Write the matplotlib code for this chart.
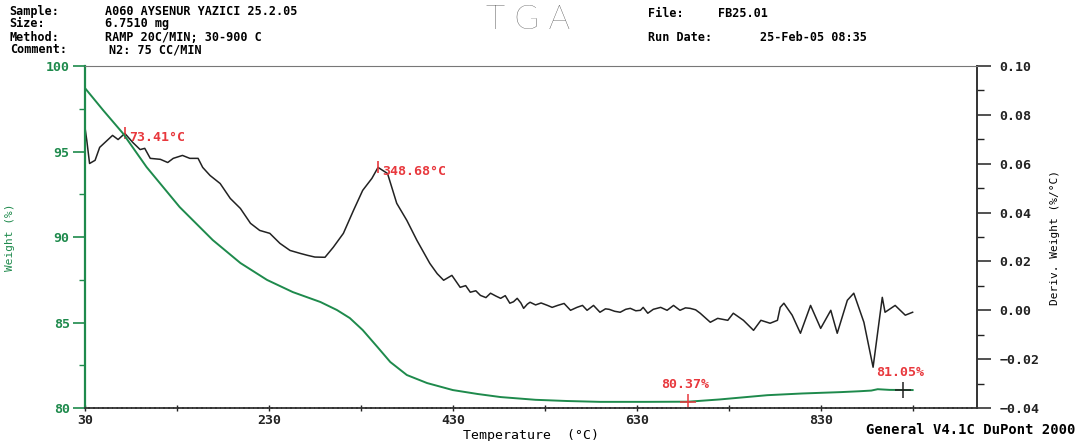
import numpy as np
import matplotlib
matplotlib.use('Agg')
import matplotlib.pyplot as plt
from matplotlib.ticker import MultipleLocator, FixedLocator

# --- data ---
# weight curve (%), temperature in C
weight_T = [30, 50, 71, 97, 133, 169, 199, 228, 256, 286, 304, 318, 332, 348,
            362, 380, 402, 430, 457, 482, 520, 554, 590, 640, 686, 720, 772,
            810, 852, 872, 885, 892, 905, 930]
weight_pct = [98.71, 97.40, 96.08, 94.09, 91.75, 89.82, 88.48, 87.49, 86.78, 86.20,
              85.73, 85.26, 84.56, 83.57, 82.69, 81.93, 81.46, 81.05, 80.82, 80.64,
              80.48, 80.41, 80.36, 80.36, 80.37, 80.50, 80.75, 80.85, 80.93, 80.98,
              81.02, 81.10, 81.06, 81.05]

# derivative curve (%/C)
deriv_T = [30, 32, 35, 41, 46, 54, 60, 66, 73.4, 82, 90, 95, 101, 112, 120, 126,
           136, 144, 153, 158, 166, 177, 188, 199, 210, 220, 231, 242, 253, 264,
           272, 280, 291, 300, 311, 322, 332, 342, 348.7, 359, 369, 380, 391, 405,
           413, 420, 429, 438, 444, 449, 455, 460, 466, 471, 477, 482, 487, 492,
           496, 500, 504, 507, 511, 514, 520, 526, 533, 538, 544, 551, 558, 565,
           571, 576, 583, 590, 596, 600, 606, 612, 618, 623, 629, 634, 637, 642,
           648, 656, 663, 670, 677, 683, 688, 694, 699, 710, 718, 729, 735, 746,
           757, 765, 775, 783, 786, 790, 799, 808, 819, 830, 841, 848, 859, 866,
           877, 887, 897, 900, 911, 922, 930]
deriv_val = [0.0749, 0.0695, 0.0601, 0.0614, 0.0667, 0.0695, 0.0716, 0.0699, 0.0724,
             0.0687, 0.0658, 0.0663, 0.0622, 0.0618, 0.0605, 0.0622, 0.0634, 0.0622,
             0.0622, 0.0585, 0.0552, 0.0519, 0.0458, 0.0417, 0.0356, 0.0327, 0.0315,
             0.0274, 0.0245, 0.0233, 0.0225, 0.0218, 0.0217, 0.0258, 0.0315, 0.0409,
             0.0491, 0.0540, 0.0585, 0.0560, 0.0438, 0.0368, 0.0286, 0.0192, 0.0150,
             0.0123, 0.0143, 0.0094, 0.0101, 0.0074, 0.0080, 0.0061, 0.0052, 0.0070,
             0.0058, 0.0049, 0.0060, 0.0029, 0.0035, 0.0049, 0.0030, 0.0008, 0.0025,
             0.0033, 0.0022, 0.0030, 0.0020, 0.0012, 0.0020, 0.0028, 0.0000, 0.0012,
             0.0020, 0.0000, 0.0020, -0.0008, 0.0006, 0.0004, -0.0004, -0.0008, 0.0004,
             0.0008, -0.0002, 0.0000, 0.0012, -0.0012, 0.0004, 0.0012, 0.0000, 0.0020,
             0.0000, 0.0010, 0.0008, 0.0002, -0.0012, -0.0049, -0.0033, -0.0041,
             -0.0012, -0.0041, -0.0082, -0.0041, -0.0053, -0.0041, 0.0012, 0.0029,
             -0.0020, -0.0094, 0.0020, -0.0074, 0.0000, -0.0094, 0.0041, 0.0070,
             -0.0049, -0.0233, 0.0053, -0.0008, 0.0020, -0.0020, -0.0008]

peak_labels = [(73.41, 0.0724, '73.41°C'), (348.68, 0.0585, '348.68°C')]
weight_marks = [(686, 80.35, '80.37%'), (919, 81.05, '81.05%')]

x_ticks = [30, 230, 430, 630, 830]

# --- style ---
GREEN = '#1e8a4c'
RED = '#e8383d'
MONO = 'DejaVu Sans Mono'
plt.rcParams['font.family'] = MONO
plt.rcParams['font.weight'] = 'bold'

fig = plt.figure(figsize=(10.81, 4.41), dpi=100)
ax = fig.add_axes([0.0786, 0.0748, 0.8252, 0.7755])
ax2 = ax.twinx()
ax.set_zorder(ax2.get_zorder() + 1)
ax.patch.set_visible(False)

ax2.plot(deriv_T, deriv_val, color='#222222', lw=1.1)
ax.plot(weight_T, weight_pct, color=GREEN, lw=1.4)

ax.set_xlim(30, 1000)
ax.set_ylim(80, 100)
ax2.set_ylim(-0.04, 0.10)

# left axis
ax.yaxis.set_major_locator(MultipleLocator(5))
ax.yaxis.set_minor_locator(MultipleLocator(2.5))
ax.tick_params(axis='y', which='major', colors=GREEN, length=9, width=1.2,
               direction='out', labelsize=9.5, pad=2)
ax.tick_params(axis='y', which='minor', colors=GREEN, length=4, width=1.0,
               direction='out')
ax.spines['left'].set_color(GREEN)
ax.spines['left'].set_linewidth(1.6)
ax.set_ylabel('Weight (%)', color=GREEN, fontsize=8)
ax.yaxis.set_label_coords(-0.078, 0.5)

# bottom axis
ax.xaxis.set_major_locator(FixedLocator(x_ticks))
ax.xaxis.set_minor_locator(FixedLocator([130, 330, 530, 730, 930]))
ax.tick_params(axis='x', which='both', direction='inout', length=5, width=1.0,
               labelsize=9.5, pad=2, colors='#222222')
ax.spines['bottom'].set_color('#333333')
ax.spines['bottom'].set_linewidth(1.3)
ax.spines['bottom'].set_linestyle((0, (2, 0.6)))
ax.spines['top'].set_color('#777777')
ax.spines['top'].set_linewidth(0.8)
ax.spines['top'].set_linestyle((0, (2, 1)))
ax.spines['right'].set_visible(False)
ax.set_xlabel('Temperature  (°C)', fontsize=9.5, labelpad=1)

# right axis
ax2.yaxis.set_major_locator(MultipleLocator(0.02))
ax2.yaxis.set_minor_locator(MultipleLocator(0.01))
ax2.yaxis.set_major_formatter(plt.FuncFormatter(lambda v, p: f'{v:.2f}'.replace('-', '\u2212')))
ax2.tick_params(axis='y', which='major', length=10, width=1.1, direction='out',
                labelsize=9.5, pad=6, colors='#222222')
ax2.tick_params(axis='y', which='minor', length=5, width=1.0, direction='out',
                colors='#222222')
ax2.spines['right'].set_color('#333333')
ax2.spines['right'].set_linewidth(1.4)
for s in ['left', 'top', 'bottom']:
    ax2.spines[s].set_visible(False)
ax2.set_ylabel('Deriv. Weight (%/°C)', fontsize=8, fontweight='normal', labelpad=8)

# peak annotations
for t, v, lab in peak_labels:
    ax2.plot([t], [v], marker='|', color=RED, ms=9, mew=1.2)
    ax2.annotate(lab, (t, v), xytext=(3, -3), textcoords='offset points',
                 color=RED, fontsize=9.5, va='center', ha='left')
for t, w, lab in weight_marks:
    ax.plot([t], [w], marker='+', color=RED if t < 800 else '#222222', ms=11, mew=1.1)
    ax.annotate(lab, (t, w), xytext=(-2, 8), textcoords='offset points',
                color=RED, fontsize=9.5, va='bottom', ha='center')

# header
fs = 8.5
rows = [0.975, 0.946, 0.916, 0.887]
fig.text(0.009, rows[0], 'Sample:', fontsize=fs, va='center')
fig.text(0.097, rows[0], 'A060 AYSENUR YAZICI 25.2.05', fontsize=fs, va='center')
fig.text(0.009, rows[1], 'Size:', fontsize=fs, va='center')
fig.text(0.097, rows[1], '6.7510 mg', fontsize=fs, va='center')
fig.text(0.009, rows[2], 'Method:', fontsize=fs, va='center')
fig.text(0.097, rows[2], 'RAMP 20C/MIN; 30-900 C', fontsize=fs, va='center')
fig.text(0.009, rows[3], 'Comment:', fontsize=fs, va='center')
fig.text(0.101, rows[3], 'N2: 75 CC/MIN', fontsize=fs, va='center')
fig.text(0.599, 0.970, 'File:', fontsize=fs, va='center')
fig.text(0.664, 0.970, 'FB25.01', fontsize=fs, va='center')
fig.text(0.599, 0.916, 'Run Date:', fontsize=fs, va='center')
fig.text(0.703, 0.916, '25-Feb-05 08:35', fontsize=fs, va='center')
fig.text(0.488, 0.955, 'T G A', fontsize=24, va='center', ha='center',
         family=['Lato', 'DejaVu Sans'], fontweight='light', color='#333333')
fig.text(0.995, 0.024, 'General V4.1C DuPont 2000', fontsize=10, va='center', ha='right')

fig.savefig('out.png', dpi=100, facecolor='white')
